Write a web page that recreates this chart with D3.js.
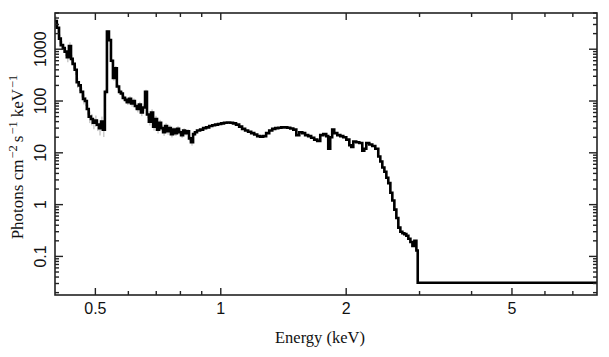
<!DOCTYPE html>
<html><head><meta charset="utf-8">
<script src="https://cdn.jsdelivr.net/npm/d3@7"></script>
<style>
html,body{margin:0;padding:0;background:#fff;}
svg{display:block;}
</style></head>
<body>
<svg id="chart" width="609" height="357"></svg>
<script>
// ---- data (bin low edges in keV, flux in photons cm^-2 s^-1 keV^-1) ----
const energyLo = [
0.400,0.404,0.409,0.413,0.418,0.422,0.427,0.432,0.437,0.441,
0.446,0.451,0.456,0.461,0.467,0.472,0.477,0.482,0.488,0.493,
0.499,0.504,0.510,0.516,0.521,0.527,0.533,0.539,0.545,0.551,
0.557,0.563,0.570,0.576,0.582,0.589,0.595,0.602,0.609,0.616,
0.622,0.629,0.636,0.643,0.650,0.658,0.665,0.672,0.680,0.688,
0.695,0.703,0.711,0.719,0.727,0.735,0.743,0.751,0.759,0.768,
0.776,0.785,0.794,0.803,0.812,0.821,0.830,0.839,0.848,0.858,
0.867,0.877,0.892,0.907,0.922,0.938,0.954,0.969,0.985,1.002,
1.018,1.035,1.053,1.070,1.088,1.107,1.125,1.144,1.163,1.183,
1.203,1.223,1.243,1.264,1.285,1.307,1.329,1.351,1.374,1.397,
1.420,1.444,1.468,1.493,1.518,1.543,1.569,1.594,1.621,1.648,
1.676,1.704,1.733,1.762,1.791,1.811,1.831,1.851,1.872,1.904,
1.936,1.968,2.001,2.035,2.057,2.080,2.114,2.150,2.186,2.210,
2.235,2.272,2.310,2.349,2.388,2.415,2.442,2.470,2.497,2.524,
2.553,2.581,2.610,2.639,2.668,2.698,2.728,2.758,2.789,2.820,
2.852,2.884,2.916,2.948,2.970
];
const energyMax = 8.0;
const flux = [
3500,2600,1600,1200,1050,900,700,1150,650,520,
400,230,200,150,110,100,70,50,45,38,
42,35,30,40,28,150,2200,1500,600,280,
430,190,150,140,115,105,95,110,90,100,
80,70,85,60,75,150,55,40,60,32,
45,28,38,30,25,33,26,30,23,28,
24,29,25,22,27,24,26,19,16,23,
25,27,28,30,31,33,34,35,36,37,
38,38.5,38,37,35,32,29,27,25.5,24,
22.5,21,20.5,21,24,27,29,30,30.5,31,
31,30.5,29.5,28,22,25,24,22,21,19.5,
18,17,22,23,21,12,20,28,24,22,
21,20,18,14,13,16.5,16,15.5,11,12,
15.5,14.5,13.5,12,8.5,6.8,5.2,4.3,3.3,2.6,
1.7,1.2,0.8,0.55,0.36,0.3,0.28,0.27,0.25,0.22,
0.19,0.16,0.2,0.13,0.031
];
// relative 1-sigma errors for the noisy low-energy bins
const relErr = [
0.25,0.22,0.2,0.2,0.18,0.18,0.2,0.18,0.2,0.2,
0.2,0.22,0.22,0.22,0.22,0.2,0.22,0.25,0.25,0.25,
0.25,0.25,0.28,0.25,0.28,0.12,0.06,0.06,0.08,0.12,
0.1,0.12,0.12,0.12,0.12,0.12,0.12,0.12,0.14,0.12,
0.14,0.14,0.14,0.15,0.14,0.1,0.15,0.16,0.15,0.16,
0.15,0.16,0.14,0.14,0.15,0.13,0.14,0.13,0.14,0.12,
0.12,0.12,0.12,0.12,0.1,0.1,0.1,0.12,0.14,0.08
];
const xMajorTicks = [0.5, 1, 2, 5];
const xMinorTicks = [0.6, 0.7, 0.8, 0.9, 3, 4, 6, 7];
const yMajorTicks = [0.1, 1, 10, 100, 1000];
const yTickLabels = ["0.1", "1", "10", "100", "1000"];
const xDomain = [0.4, 8];
const yDomain = [0.018, 5000];

// ---- layout ----
const L = 55, R = 597, T = 13, B = 295;
const svg = d3.select("#chart");
const x = d3.scaleLog().domain(xDomain).range([L, R]);
const y = d3.scaleLog().domain(yDomain).range([B, T]);

svg.append("defs").append("clipPath").attr("id","clip")
  .append("rect").attr("x",L).attr("y",T).attr("width",R-L).attr("height",B-T);

const bins = energyLo.map((e,i)=>({lo:e, hi: i<energyLo.length-1 ? energyLo[i+1] : energyMax, v:flux[i], err: relErr[i]}));

const plot = svg.append("g").attr("clip-path","url(#clip)");

// error bars
plot.append("g").selectAll("line").data(bins.filter(d=>d.err!==undefined)).join("line")
  .attr("x1",d=>x(Math.sqrt(d.lo*d.hi))).attr("x2",d=>x(Math.sqrt(d.lo*d.hi)))
  .attr("y1",d=>y(d.v*(1+d.err))).attr("y2",d=>y(d.v*(1-d.err)))
  .attr("stroke","#b0b0b0").attr("stroke-width",1);

// stepped spectrum
const pts = bins.map(d=>[d.lo,d.v]);
pts.push([energyMax, flux[flux.length-1]]);
plot.append("path").datum(pts)
  .attr("d", d3.line().x(d=>x(d[0])).y(d=>y(d[1])).curve(d3.curveStepAfter))
  .attr("fill","none").attr("stroke","#000").attr("stroke-width",2.6)
  .attr("stroke-linejoin","miter");

// frame
const axCol = "#222";
svg.append("rect").attr("x",L).attr("y",T).attr("width",R-L).attr("height",B-T)
  .attr("fill","none").attr("stroke",axCol).attr("stroke-width",1.6);

const tg = svg.append("g").attr("stroke",axCol).attr("stroke-width",1.4);
function xTick(v,len){
  tg.append("line").attr("x1",x(v)).attr("x2",x(v)).attr("y1",B).attr("y2",B-len);
  tg.append("line").attr("x1",x(v)).attr("x2",x(v)).attr("y1",T).attr("y2",T+len);
}
function yTick(v,len){
  tg.append("line").attr("y1",y(v)).attr("y2",y(v)).attr("x1",L).attr("x2",L+len);
  tg.append("line").attr("y1",y(v)).attr("y2",y(v)).attr("x1",R).attr("x2",R-len);
}
xMajorTicks.forEach(v=>xTick(v,7));
xMinorTicks.forEach(v=>xTick(v,4));
y.ticks().filter(v=>!yMajorTicks.some(m=>Math.abs(m-v)/m<1e-6)).forEach(v=>yTick(v,4));
yMajorTicks.forEach(v=>yTick(v,8));

// tick labels
svg.append("g").selectAll("text").data(xMajorTicks).join("text")
  .attr("x",d=>x(d)).attr("y",313.5).attr("text-anchor","middle")
  .attr("font-family","Liberation Sans, Arial, sans-serif").attr("font-size",16).attr("fill","#111")
  .text(d=>d3.format("")(d));
svg.append("g").selectAll("text").data(yMajorTicks).join("text")
  .attr("transform",d=>`translate(46,${y(d)}) rotate(-90)`)
  .attr("text-anchor","middle")
  .attr("font-family","Liberation Sans, Arial, sans-serif").attr("font-size",16).attr("fill","#111")
  .text((d,i)=>yTickLabels[i]);

// axis titles
svg.append("text").attr("x",(L+R)/2-6).attr("y",343).attr("text-anchor","middle")
  .attr("font-family","Liberation Serif, Times New Roman, serif").attr("font-size",16.5).attr("fill","#111")
  .text("Energy (keV)");
const yt = svg.append("text").attr("transform",`translate(23,${(T+B)/2+3}) rotate(-90)`)
  .attr("text-anchor","middle")
  .attr("font-family","Liberation Serif, Times New Roman, serif").attr("font-size",17).attr("fill","#111");
yt.append("tspan").text("Photons cm");
yt.append("tspan").attr("dy",-6.5).attr("dx",1).attr("font-size",12.5).text("−2");
yt.append("tspan").attr("dy",6.5).attr("dx",3).text("s");
yt.append("tspan").attr("dy",-6.5).attr("dx",1).attr("font-size",12.5).text("−1");
yt.append("tspan").attr("dy",6.5).attr("dx",4).text("keV");
yt.append("tspan").attr("dy",-6.5).attr("dx",1).attr("font-size",12.5).text("−1");
</script>
</body></html>
